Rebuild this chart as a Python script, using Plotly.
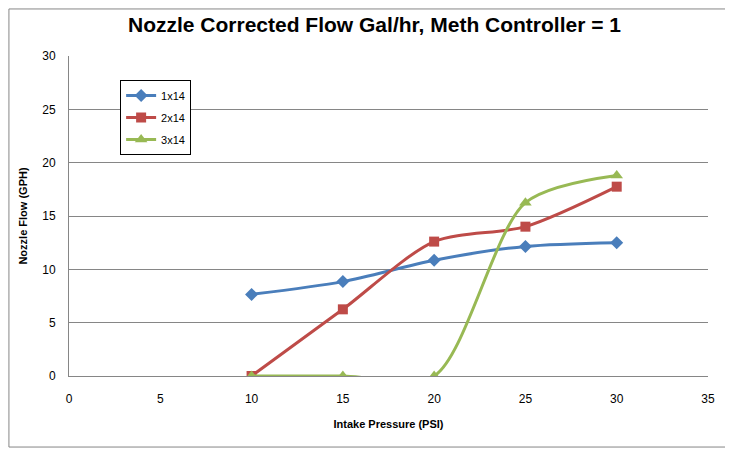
import plotly.graph_objects as go

pressure = [10, 15, 20, 25, 30]
flow_1x14 = [7.65, 8.85, 10.85, 12.15, 12.5]
flow_2x14 = [0, 6.25, 12.6, 14.0, 17.75]
flow_3x14 = [0, 0, 0, 16.25, 18.8]

series = [
    ("1x14", flow_1x14, "#4a7ebb", "diamond", 10),
    ("2x14", flow_2x14, "#be4b48", "square", 10),
    ("3x14", flow_3x14, "#98b954", "triangle-up", 11),
]

fig = go.Figure()
for name, ys, color, symbol, size in series:
    fig.add_trace(go.Scatter(
        x=pressure, y=ys, name=name, legendgroup=name, mode="lines+markers",
        line=dict(color=color, width=3, shape="spline", smoothing=0.8),
        marker=dict(symbol=symbol, size=size, color=color),
    ))

# page sits 8px in from the window edge, margins are set with that in mind
fig.update_layout(
    width=733, height=449,
    paper_bgcolor="white", plot_bgcolor="white",
    margin=dict(l=61, r=33, t=48, b=81),
    font=dict(family="Liberation Sans", color="black"),
    title=dict(
        text="<b>Nozzle Corrected Flow Gal/hr, Meth Controller = 1</b>",
        font=dict(size=21, family="Liberation Sans", color="black"),
        x=0.5, xanchor="center", y=0.962, yanchor="middle",
    ),
    xaxis=dict(
        range=[0, 35], dtick=5, showgrid=False, zeroline=False,
        showline=True, linecolor="#868686", linewidth=1,
        ticks="", ticklabelstandoff=12, tickfont=dict(size=12),
        title=dict(text="<b>Intake Pressure (PSI)</b>", font=dict(size=11), standoff=14),
    ),
    yaxis=dict(
        range=[0, 30], dtick=5, showgrid=True, gridcolor="#868686", gridwidth=1,
        zeroline=False, showline=True, linecolor="#868686", linewidth=1,
        ticks="", ticklabelstandoff=10, tickfont=dict(size=12),
        title=dict(text="<b>Nozzle Flow (GPH)</b>", font=dict(size=11), standoff=12),
    ),
    legend=dict(
        x=0.08, y=0.925, xanchor="left", yanchor="top",
        bordercolor="black", borderwidth=1, bgcolor="white",
        font=dict(size=11), itemwidth=30, tracegroupgap=3,
    ),
    shapes=[dict(
        type="rect", xref="paper", yref="paper",
        x0=-0.094, x1=1.036, y0=-0.222, y1=1.147,
        line=dict(color="#868686", width=1),
    )],
)

fig.write_html("out.html")
